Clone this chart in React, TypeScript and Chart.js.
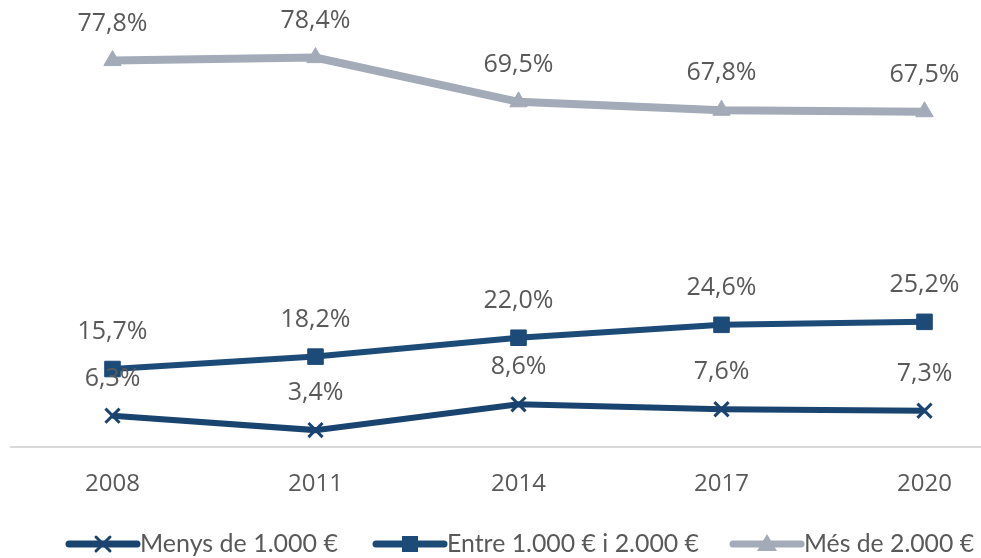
import React, { useEffect, useRef } from "react";
import { Chart, registerables } from "chart.js";

Chart.register(...registerables);

const years = ["2008", "2011", "2014", "2017", "2020"];
const menys = [6.3, 3.4, 8.6, 7.6, 7.3];
const entre = [15.7, 18.2, 22.0, 24.6, 25.2];
const mes = [77.8, 78.4, 69.5, 67.8, 67.5];
const seriesNames = ["Menys de 1.000 €", "Entre 1.000 € i 2.000 €", "Més de 2.000 €"];

const DARK1 = "#1A4470";
const DARK2 = "#1D4B78";
const GREY = "#A3ABB8";
const TEXT = "#595959";

const fmt = (v: number) => v.toFixed(1).replace(".", ",") + "%";

const labelPlugin = {
  id: "valueLabels",
  afterDatasetsDraw(chart: any) {
    const ctx = chart.ctx;
    ctx.save();
    ctx.font = "25px 'Open Sans'";
    ctx.fillStyle = TEXT;
    ctx.textAlign = "center";
    ctx.textBaseline = "middle";
    chart.data.datasets.forEach((ds: any, i: number) => {
      const meta = chart.getDatasetMeta(i);
      meta.data.forEach((pt: any, j: number) => {
        ctx.fillText(fmt(ds.data[j]), pt.x, pt.y - 37);
      });
    });
    ctx.restore();
  },
};

const legendStarts = [69, 376, 733];
const legendTextMax = [200, 252, 170];

function drawMarker(ctx: CanvasRenderingContext2D, style: string, x: number, y: number, color: string) {
  ctx.save();
  ctx.fillStyle = color;
  ctx.strokeStyle = color;
  if (style === "crossRot") {
    ctx.lineWidth = 3;
    const s = 7;
    ctx.beginPath();
    ctx.moveTo(x - s, y - s);
    ctx.lineTo(x + s, y + s);
    ctx.moveTo(x - s, y + s);
    ctx.lineTo(x + s, y - s);
    ctx.stroke();
  } else if (style === "rect") {
    ctx.fillRect(x - 8, y - 8, 16, 16);
  } else {
    ctx.beginPath();
    ctx.moveTo(x, y - 10);
    ctx.lineTo(x + 10, y + 7);
    ctx.lineTo(x - 10, y + 7);
    ctx.closePath();
    ctx.fill();
  }
  ctx.restore();
}

const legendPlugin = {
  id: "lineLegend",
  afterDraw(chart: any) {
    const ctx = chart.ctx;
    const y = 544;
    ctx.save();
    chart.data.datasets.forEach((ds: any, i: number) => {
      const x0 = legendStarts[i];
      ctx.strokeStyle = ds.borderColor;
      ctx.lineWidth = 7;
      ctx.lineCap = "round";
      ctx.beginPath();
      ctx.moveTo(x0, y);
      ctx.lineTo(x0 + 68, y);
      ctx.stroke();
      drawMarker(ctx, ds.pointStyle, x0 + 34, y, ds.borderColor);
      ctx.font = "25px Lato";
      ctx.fillStyle = TEXT;
      ctx.textAlign = "left";
      ctx.textBaseline = "middle";
      ctx.fillText(ds.label, x0 + 71, y, legendTextMax[i]);
    });
    ctx.restore();
  },
};

export default function App() {
  const ref = useRef<HTMLCanvasElement | null>(null);
  useEffect(() => {
    if (!ref.current) return;
    const chart = new Chart(ref.current, {
      type: "line",
      data: {
        labels: years,
        datasets: [
          {
            label: seriesNames[0],
            data: menys,
            borderColor: DARK1,
            backgroundColor: DARK1,
            borderWidth: 6,
            pointStyle: "crossRot",
            pointRadius: 10,
            pointBorderWidth: 3,
            tension: 0,
          },
          {
            label: seriesNames[1],
            data: entre,
            borderColor: DARK2,
            backgroundColor: DARK2,
            borderWidth: 6,
            pointStyle: "rect",
            pointRadius: 11,
            pointBorderWidth: 1,
            tension: 0,
          },
          {
            label: seriesNames[2],
            data: mes,
            borderColor: GREY,
            backgroundColor: GREY,
            borderWidth: 8,
            pointStyle: "triangle",
            pointRadius: 10,
            pointBorderWidth: 1,
            tension: 0,
          },
        ],
      },
      options: {
        responsive: false,
        animation: false,
        layout: { autoPadding: false, padding: { left: 11, right: 14, top: 0, bottom: 0 } },
        plugins: { legend: { display: false }, tooltip: { enabled: false } },
        scales: {
          x: {
            offset: true,
            grid: { display: false, drawTicks: false },
            border: { display: true, color: "#D9D9D9", width: 2 },
            ticks: { color: TEXT, font: { family: "'Open Sans'", size: 24 }, padding: 23 },
            afterFit: (scale: any) => {
              scale.height = 111;
            },
          },
          y: { display: false, min: 0, max: 90 },
        },
      },
      plugins: [labelPlugin, legendPlugin],
    });
    return () => chart.destroy();
  }, []);
  return (
    <div style={{ position: "absolute", left: 0, top: 0, width: 981, height: 558, overflow: "hidden", background: "#fff" }}>
      <canvas ref={ref} width={1040} height={558} style={{ display: "block" }} />
    </div>
  );
}
